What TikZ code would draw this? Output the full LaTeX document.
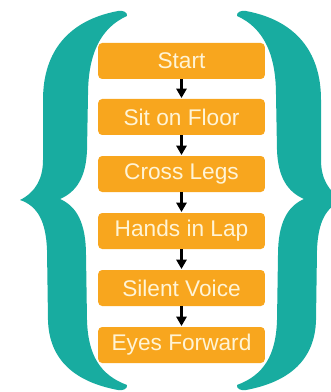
\documentclass[tikz,border=0pt]{standalone}
\usepackage{fontspec}
\setmainfont{Liberation Sans}
\usetikzlibrary{arrows.meta}
\definecolor{braceteal}{RGB}{24,172,160}
\definecolor{steporange}{RGB}{248,166,30}
\definecolor{stepcream}{RGB}{255,244,214}

\begin{document}
\begin{tikzpicture}[x=0.75pt,y=-0.75pt]
    \tikzstyle{stepbox}=[rectangle,rounded corners=3pt,fill=steporange,text=stepcream,minimum width=125pt,minimum height=27pt,inner sep=0pt,font=\fontsize{17}{19}\selectfont]
    \tikzstyle{flow}=[-{Triangle[length=7pt,width=7.5pt]},line width=2.2pt,black,shorten >=0.5pt]
    \tikzstyle{brace}=[fill=braceteal]

\useasboundingbox (0,0) rectangle (331,392);
\clip (0,0) rectangle (331,392);

% left brace
\fill[brace] (118,11) .. controls (122,10) and (128,12) .. (127,16)
  .. controls (100,28) and (88,55) .. (88,95)
  -- (87,150)
  .. controls (86,178) and (76,192) .. (60,199)
  .. controls (76,206) and (86,222) .. (86,255)
  -- (87,320)
  .. controls (88,355) and (100,375) .. (127,385)
  .. controls (128,389) and (122,391) .. (118,390)
  .. controls (75,382) and (49,360) .. (48,320)
  -- (47,250)
  .. controls (46,222) and (38,206) .. (20,200)
  .. controls (36,192) and (43,178) .. (43,160)
  -- (43,100)
  .. controls (43,50) and (70,20) .. (118,11) -- cycle;
% right brace (mirrored)
\begin{scope}[xshift=273pt,xscale=-1]
\fill[brace] (118,11) .. controls (122,10) and (128,12) .. (127,16)
  .. controls (100,28) and (88,55) .. (88,95)
  -- (87,150)
  .. controls (86,178) and (76,192) .. (60,199)
  .. controls (76,206) and (86,222) .. (86,255)
  -- (87,320)
  .. controls (88,355) and (100,375) .. (127,385)
  .. controls (128,389) and (122,391) .. (118,390)
  .. controls (75,382) and (49,360) .. (48,320)
  -- (47,250)
  .. controls (46,222) and (38,206) .. (20,200)
  .. controls (36,192) and (43,178) .. (43,160)
  -- (43,100)
  .. controls (43,50) and (70,20) .. (118,11) -- cycle;
\end{scope}

\node[stepbox] (a) at (181.5,61) {Start};
\node[stepbox] (b) at (181.5,117) {Sit on Floor};
\node[stepbox] (c) at (181.5,174) {Cross Legs};
\node[stepbox] (d) at (181.5,231) {Hands in Lap};
\node[stepbox] (e) at (181.5,288) {Silent Voice};
\node[stepbox] (f) at (181.5,345) {Eyes Forward};
\foreach \s/\t in {a/b,b/c,c/d,d/e,e/f}{
\draw[flow] (\s) -- (\t);
};
\end{tikzpicture}
\end{document}
